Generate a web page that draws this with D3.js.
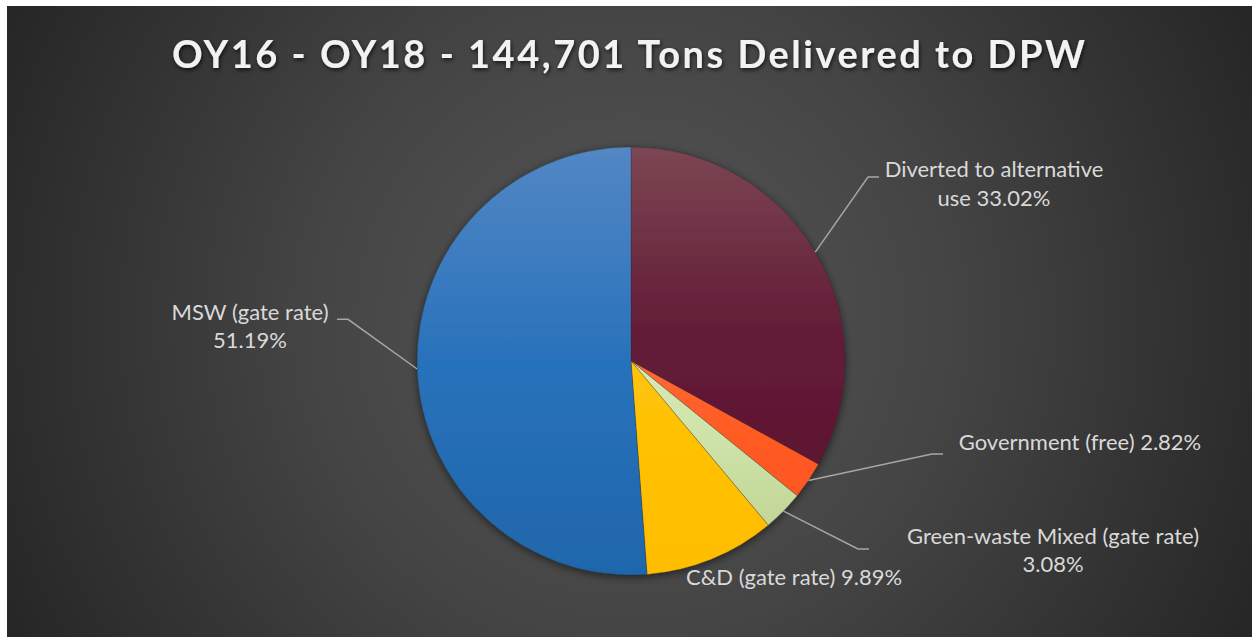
<!DOCTYPE html>
<html>
<head>
<meta charset="utf-8">
<script src="https://cdn.jsdelivr.net/npm/d3@7/dist/d3.min.js"></script>
<style>
  html, body { margin: 0; padding: 0; background: #ffffff; }
  svg { display: block; }
</style>
</head>
<body>
<svg id="chart" width="1252" height="637"></svg>
<script>
// ---- data ----
const chartTitle = "OY16 - OY18 - 144,701 Tons Delivered to DPW";
const categories = [
  "Diverted to alternative use",
  "Government (free)",
  "Green-waste Mixed (gate rate)",
  "C&D (gate rate)",
  "MSW (gate rate)"
];
const shares = [33.02, 2.82, 3.08, 9.89, 51.19];

// ---- styling ----
// top / middle / bottom colour of each slice's vertical gradient
const sliceGradients = [
  ["#7c4653", "#66213a", "#5e1230"],
  ["#ff6a36", "#ff5b24", "#ff5722"],
  ["#d8eab6", "#cde2a8", "#c2d696"],
  ["#ffc30c", "#ffc000", "#ffbd00"],
  ["#5387c5", "#2872bb", "#1f66ab"]
];
// words kept on the first line of each label, label anchor, leader elbow
const labelLayout = [
  { firstWords: 3, x: 994, y: 177, elbow: [868, 177], end: [879, 177] },
  { firstWords: 3, x: 1080, y: 450, elbow: [932, 454], end: [943, 454] },
  { firstWords: 4, x: 1053, y: 543.5, elbow: [858, 549], end: [869, 549] },
  { firstWords: 4, x: 794, y: 585, elbow: null, end: null },
  { firstWords: 3, x: 250, y: 319.5, elbow: [348, 319.3], end: [337, 319.3] }
];

const W = 1252, H = 637;
const cx = 631, cy = 361, radius = 214;
const labelFont = "Lato, 'Open Sans', sans-serif";

const svg = d3.select("#chart");
const defs = svg.append("defs");

// background radial glow
const bg = defs.append("radialGradient")
  .attr("id", "bgGrad")
  .attr("gradientUnits", "userSpaceOnUse")
  .attr("cx", 630).attr("cy", 320).attr("r", 720);
bg.append("stop").attr("offset", 0).attr("stop-color", "#575757");
bg.append("stop").attr("offset", 0.45).attr("stop-color", "#444444");
bg.append("stop").attr("offset", 1).attr("stop-color", "#242424");

// soft shadow under the pie
const pieShadow = defs.append("filter").attr("id", "pieShadow")
  .attr("x", "-20%").attr("y", "-20%").attr("width", "140%").attr("height", "140%");
pieShadow.append("feDropShadow")
  .attr("dx", 0).attr("dy", 2).attr("stdDeviation", 4)
  .attr("flood-color", "#000").attr("flood-opacity", 0.55);

// title shadow
const titleShadow = defs.append("filter").attr("id", "titleShadow")
  .attr("x", "-10%").attr("y", "-50%").attr("width", "120%").attr("height", "200%");
titleShadow.append("feDropShadow")
  .attr("dx", 1).attr("dy", 2).attr("stdDeviation", 2)
  .attr("flood-color", "#000").attr("flood-opacity", 0.7);

sliceGradients.forEach((stops, i) => {
  const g = defs.append("linearGradient")
    .attr("id", "slice" + i)
    .attr("x1", 0).attr("y1", 0).attr("x2", 0).attr("y2", 1);
  g.append("stop").attr("offset", 0).attr("stop-color", stops[0]);
  g.append("stop").attr("offset", 0.5).attr("stop-color", stops[1]);
  g.append("stop").attr("offset", 1).attr("stop-color", stops[2]);
});

// chart area (white frame shows on left and top)
svg.append("rect")
  .attr("x", 7).attr("y", 6)
  .attr("width", W - 7).attr("height", H - 6)
  .attr("fill", "url(#bgGrad)");

// title
svg.append("text")
  .attr("x", 628.5).attr("y", 68)
  .attr("text-anchor", "middle")
  .attr("font-family", labelFont)
  .attr("font-weight", 700)
  .attr("font-size", 38)
  .attr("fill", "#f2f2f2")
  .attr("textLength", 913)
  .attr("lengthAdjust", "spacing")
  .attr("filter", "url(#titleShadow)")
  .text(chartTitle);

// pie
const pie = d3.pie().sort(null).value(d => d);
const arcs = pie(shares);
const arc = d3.arc().innerRadius(0).outerRadius(radius);
const edgeArc = d3.arc().innerRadius(radius).outerRadius(radius);

const pieG = svg.append("g")
  .attr("transform", `translate(${cx},${cy})`);

pieG.append("g")
  .attr("filter", "url(#pieShadow)")
  .selectAll("path")
  .data(arcs)
  .join("path")
  .attr("d", arc)
  .attr("fill", (d, i) => `url(#slice${i})`)
  .attr("stroke", "rgba(40,40,40,0.45)")
  .attr("stroke-width", 0.6);

// leader lines
const leaders = svg.append("g")
  .attr("fill", "none")
  .attr("stroke", "#a6a6a6")
  .attr("stroke-width", 1.5);

arcs.forEach((d, i) => {
  const lay = labelLayout[i];
  if (!lay.elbow) return;
  const [ex, ey] = edgeArc.centroid(d);
  leaders.append("polyline")
    .attr("points", [[cx + ex, cy + ey], lay.elbow, lay.end].map(p => p.join(",")).join(" "));
});

// data labels
const labels = svg.append("g")
  .attr("font-family", labelFont)
  .attr("font-size", 22)
  .attr("fill", "#d9d9d9")
  .attr("text-anchor", "middle");

categories.forEach((name, i) => {
  const lay = labelLayout[i];
  const full = `${name} ${shares[i].toFixed(2)}%`;
  const words = full.split(" ");
  const lines = [words.slice(0, lay.firstWords).join(" ")];
  if (words.length > lay.firstWords) lines.push(words.slice(lay.firstWords).join(" "));
  const t = labels.append("text").attr("x", lay.x).attr("y", lay.y);
  lines.forEach((ln, k) => {
    t.append("tspan")
      .attr("x", lay.x)
      .attr("dy", k === 0 ? 0 : 28.8)
      .text(ln);
  });
});
</script>
</body>
</html>
